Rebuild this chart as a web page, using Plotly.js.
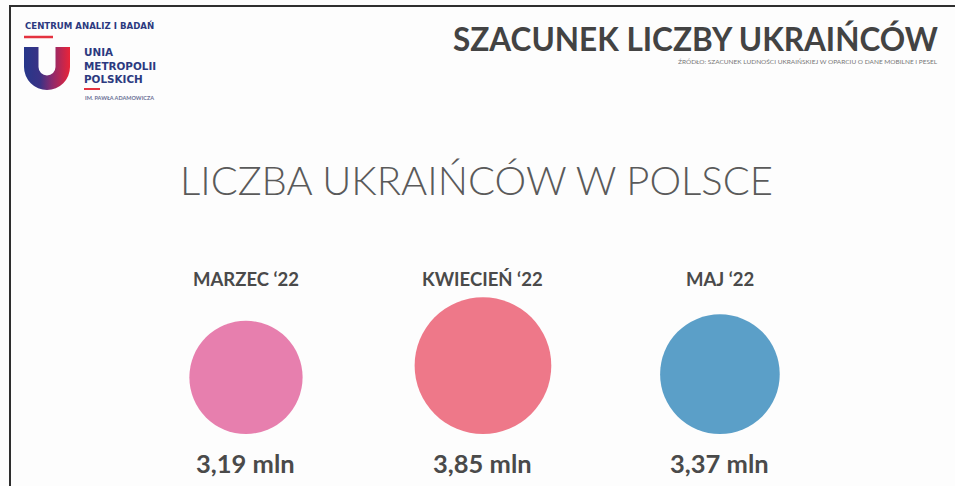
<!DOCTYPE html>
<html>
<head>
<meta charset="utf-8">
<script src="https://cdn.plot.ly/plotly-3.0.1.min.js"></script>
<style>html,body{margin:0;padding:0;background:#fdfdfd;overflow:hidden;}#chart{width:955px;height:486px;}</style>
</head>
<body>
<div id="chart"></div>
<script>
// ---- data ----
const months = ["MARZEC \u201822", "KWIECIE\u0143 \u201822", "MAJ \u201822"];
const valuesMln = [3.19, 3.85, 3.37];
const unit = "mln";

// ---- styles ----
const bubbleColors = ["#e77fae", "#ee7889", "#5b9fc8"];
const navy = "#2c3a80";
const red = "#e4323f";
const FONT = "Lato, 'Open Sans', sans-serif";

const W = 955, H = 486;
const px = v => v / W;
const py = v => 1 - v / H;

const valueLabels = valuesMln.map(v => v.toFixed(2).replace('.', ',') + ' ' + unit);

const trace = {
  type: 'scatter',
  mode: 'markers',
  x: months,
  y: valuesMln,
  marker: {
    size: valuesMln,
    sizemode: 'diameter',
    sizeref: 1 / 35.5,
    color: bubbleColors,
    opacity: 1,
    line: {width: 0}
  },
  hoverinfo: 'skip',
  showlegend: false
};

const logoSvg = "<svg xmlns='http://www.w3.org/2000/svg' viewBox='0 0 46 43'>" +
  "<defs><linearGradient id='g' x1='0' x2='1' y1='0' y2='0'>" +
  "<stop offset='0' stop-color='#26378a'/><stop offset='0.35' stop-color='#3a3285'/>" +
  "<stop offset='0.6' stop-color='#8a2a6e'/><stop offset='1' stop-color='#ea2438'/></linearGradient></defs>" +
  "<path d='M0,0 H14.5 V20 A8.5,8.5 0 0 0 31.5,20 V0 H46 V20 A23,23 0 0 1 0,20 Z' fill='url(#g)'/></svg>";

const annotations = [];
months.forEach((m, i) => {
  annotations.push({
    x: m, xref: 'x', y: py(279), yref: 'paper', text: m, showarrow: false,
    xanchor: 'center', yanchor: 'middle',
    font: {family: FONT, size: 18.5, color: '#4a4a4a', weight: 700}
  });
  annotations.push({
    x: m, xref: 'x', y: py(463), yref: 'paper', text: valueLabels[i], showarrow: false,
    xanchor: 'center', yanchor: 'middle',
    font: {family: FONT, size: 25.5, color: '#4a4a4a', weight: 700}
  });
});

// title texts
annotations.push({
  x: px(476), y: py(180), xref: 'paper', yref: 'paper', showarrow: false,
  text: 'LICZBA UKRAI\u0143C\u00d3W W POLSCE', xanchor: 'center', yanchor: 'middle',
  font: {family: FONT, size: 40, color: '#5a5a5a', weight: 300}
});
annotations.push({
  x: px(940), y: py(39.5), xref: 'paper', yref: 'paper', showarrow: false,
  text: 'SZACUNEK LICZBY UKRAI\u0143C\u00d3W', xanchor: 'right', yanchor: 'middle',
  font: {family: FONT, size: 31.5, color: '#434343', weight: 700}
});
annotations.push({
  x: px(940), y: py(62), xref: 'paper', yref: 'paper', showarrow: false,
  text: '\u0179R\u00d3D\u0141O: SZACUNEK LUDNO\u015aCI UKRAI\u0143SKIEJ W OPARCIU O DANE MOBILNE I PESEL',
  xanchor: 'right', yanchor: 'middle',
  font: {family: FONT, size: 6.5, color: '#777777'}
});
// logo texts
annotations.push({
  x: px(23), y: py(26), xref: 'paper', yref: 'paper', showarrow: false,
  text: 'CENTRUM ANALIZ I BADA\u0143', xanchor: 'left', yanchor: 'middle',
  font: {family: "'DejaVu Sans', sans-serif", size: 8.6, color: navy, weight: 700}
});
annotations.push({
  x: px(82), y: py(66), xref: 'paper', yref: 'paper', showarrow: false,
  text: 'UNIA<br>METROPOLII<br>POLSKICH', xanchor: 'left', yanchor: 'middle', align: 'left',
  font: {family: "'DejaVu Sans', sans-serif", size: 10.4, color: navy, weight: 700}
});
annotations.push({
  x: px(83), y: py(98), xref: 'paper', yref: 'paper', showarrow: false,
  text: 'IM. PAW\u0141A ADAMOWICZA', xanchor: 'left', yanchor: 'middle',
  font: {family: FONT, size: 5.5, color: '#6a6f95', weight: 700}
});

const shapes = [
  {type: 'line', xref: 'paper', yref: 'paper', x0: px(9), x1: 1, y0: py(6), y1: py(6), line: {color: '#2e2e2e', width: 2}},
  {type: 'line', xref: 'paper', yref: 'paper', x0: px(10), x1: px(10), y0: py(5), y1: 0, line: {color: '#2e2e2e', width: 2}},
  {type: 'line', xref: 'paper', yref: 'paper', x0: px(24), x1: px(53), y0: py(37), y1: py(37), line: {color: red, width: 2.5}},
  {type: 'line', xref: 'paper', yref: 'paper', x0: px(84), x1: px(100), y0: py(89), y1: py(89), line: {color: red, width: 2}}
];

const layout = {
  width: W, height: H,
  margin: {l: 0, r: 0, t: 0, b: 0},
  paper_bgcolor: '#fdfdfd',
  plot_bgcolor: 'rgba(0,0,0,0)',
  showlegend: false,
  xaxis: {type: 'category', categoryarray: months, range: [-1.038, 2.992], visible: false, fixedrange: true},
  yaxis: {range: [-2.93, 24.45], visible: false, fixedrange: true},
  annotations: annotations,
  shapes: shapes,
  images: [{
    source: 'data:image/svg+xml;charset=utf-8,' + encodeURIComponent(logoSvg),
    xref: 'paper', yref: 'paper', x: px(24), y: py(47), sizex: px(46), sizey: 43 / H,
    xanchor: 'left', yanchor: 'top', sizing: 'stretch', layer: 'above'
  }]
};

Plotly.newPlot('chart', [trace], layout, {displayModeBar: false, staticPlot: true});
</script>
</body>
</html>
